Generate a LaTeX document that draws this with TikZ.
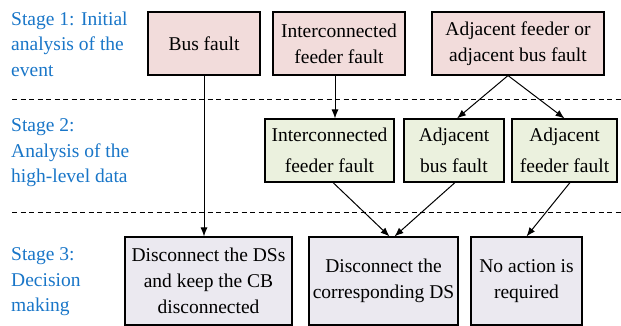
\documentclass[tikz,border=0pt]{standalone}
\usepackage{fontspec}
\newfontfamily\lib{Liberation Serif}
\usetikzlibrary{arrows.meta,calc}
\definecolor{stageblue}{RGB}{25,118,200}
\definecolor{pinkfill}{RGB}{242,220,219}
\definecolor{greenfill}{RGB}{235,241,222}
\definecolor{grayfill}{RGB}{235,233,240}
\begin{document}
\begin{tikzpicture}[x=1pt,y=1pt,
  box/.style={draw=black,line width=1.1pt,align=center,inner sep=0pt,font=\lib\fontsize{19.5}{26}\selectfont},
  pinkbox/.style={box,fill=pinkfill,minimum height=63},
  greenbox/.style={box,fill=greenfill,minimum height=63,font=\lib\fontsize{19.5}{31}\selectfont},
  graybox/.style={box,fill=grayfill,minimum height=88},
  stagelabel/.style={anchor=west,align=left,text=stageblue,inner sep=0pt,font=\lib\fontsize{19.5}{25.5}\selectfont},
  conn/.style={line width=1pt,-{Latex[length=9pt,width=7pt]}},
  sep/.style={line width=0.8pt,dash pattern=on 5pt off 3.5pt}]
\useasboundingbox (0,0) rectangle (621,326);
% stage labels
\node[stagelabel] (s1) at (11,282) {Stage 1: Initial\\analysis of the\\event};
\node[stagelabel] (s2) at (11,173) {Stage 2:\\Analysis of the\\high-level data};
\node[stagelabel] (s3) at (11,44) {Stage 3:\\Decision\\making};
% separators
\coordinate (d1a) at (12,227);
\coordinate (d1b) at (621,227);
\coordinate (d2a) at (12,114);
\coordinate (d2b) at (621,114);
\draw[sep] (d1a) -- (d1b);
\draw[sep] (d2a) -- (d2b);
% stage 1
\node[pinkbox,minimum width=112] (busf) at (204,282.5) {Bus fault};
\node[pinkbox,minimum width=132] (icf1) at (339,282.5) {Interconnected\\feeder fault};
\node[pinkbox,minimum width=172] (adj1) at (518,282.5) {Adjacent feeder or\\adjacent bus fault};
% stage 2
\node[greenbox,minimum width=129] (icf2) at (329.5,175.5) {Interconnected\\feeder fault};
\node[greenbox,minimum width=100] (adjb) at (454,175.5) {Adjacent\\bus fault};
\node[greenbox,minimum width=105] (adjf) at (564.5,175.5) {Adjacent\\feeder fault};
% stage 3
\node[graybox,minimum width=167] (dss) at (208.5,45) {Disconnect the DSs\\and keep the CB\\disconnected};
\node[graybox,minimum width=149] (dcor) at (383.5,45) {Disconnect the\\corresponding DS};
\node[graybox,minimum width=111] (noact) at (526.5,45) {No action is\\required};
% connectors
\draw[conn] (busf.south) -- (busf.south |- dss.north);
\draw[conn] ([xshift=-4pt]icf1.south) -- ([xshift=-4pt]icf1.south |- icf2.north);
\draw[conn] ([xshift=-10pt]adj1.south) -- ([xshift=3pt]adjb.north);
\draw[conn] ([xshift=-10pt]adj1.south) -- (adjf.north);
\draw[conn] ([xshift=3.5pt]icf2.south) -- ([xshift=6pt]dcor.north);
\draw[conn] ([xshift=1pt]adjb.south) -- ([xshift=11pt]dcor.north);
\draw[conn] ([xshift=5.5pt]adjf.south) -- (noact.north);
\end{tikzpicture}
\end{document}
